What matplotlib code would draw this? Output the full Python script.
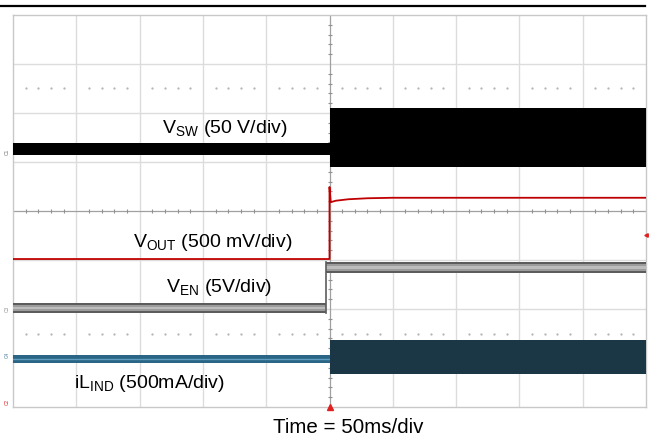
import matplotlib.pyplot as plt
import numpy as np
from matplotlib.lines import Line2D

plt.rcParams['font.family'] = ['Liberation Sans', 'DejaVu Sans']
plt.rcParams['mathtext.fontset'] = 'custom'
plt.rcParams['mathtext.rm'] = 'Liberation Sans'

# screen is 10 x 8 divisions, time in div (50 ms/div), trigger at t = 0
t_edges = [-5.0, 0.0, 5.0]

# V_SW band (low, high) before / after enable
vsw_lo = [1.14, 0.90]
vsw_hi = [1.39, 2.10]

# V_OUT trace
vout_t = [-5.0, 0.0, 0.0, 0.02, 0.1, 0.3, 0.6, 1.0, 2.0, 5.0]
vout_v = [-0.98, -0.98, 0.49, 0.18, 0.21, 0.24, 0.26, 0.27, 0.27, 0.27]

# V_EN band, step a bit before trigger
ven_t = [-5.0, -0.06, 5.0]
ven_lo = [-2.08, -1.27]
ven_hi = [-1.88, -1.04]

# inductor current band
il_lo = [-3.10, -3.33]
il_hi = [-2.94, -2.63]

labels = [
    (r'V$_\mathregular{SW}$ (50 V/div)', -2.65, 1.59),
    (r'V$_\mathregular{OUT}$ (500 mV/div)', -3.11, -0.73),
    (r'V$_\mathregular{EN}$ (5V/div)', -2.58, -1.65),
    (r'iL$_\mathregular{IND}$ (500mA/div)', -4.03, -3.61),
]

fig = plt.figure(figsize=(6.49, 4.36), dpi=100)
ax = fig.add_axes([13 / 649, 1 - 407 / 436, 633 / 649, 392 / 436])
ax.set_xlim(-5, 5)
ax.set_ylim(-4, 4)
ax.set_xticks([])
ax.set_yticks([])
for s in ax.spines.values():
    s.set_color('#c8c8c8')
    s.set_linewidth(1.0)

# graticule
for x in range(-4, 5):
    if x != 0:
        ax.axvline(x, color='#dcdcdc', lw=1.0, zorder=0)
for y in range(-3, 4):
    if y != 0:
        ax.axhline(y, color='#dcdcdc', lw=1.0, zorder=0)
ax.axvline(0, color='#a0a0a0', lw=0.9, zorder=0)
ax.axhline(0, color='#a0a0a0', lw=0.9, zorder=0)
minor_x = [v / 5 for v in range(-25, 26) if v % 5 != 0]
minor_y = [v / 5 for v in range(-20, 21) if v % 5 != 0]
ax.plot(minor_x, [0] * len(minor_x), ls='none', marker='|', ms=3, color='#909090', mew=0.8, zorder=0)
ax.plot([0] * len(minor_y), minor_y, ls='none', marker='_', ms=3, color='#909090', mew=0.8, zorder=0)
for yy in [2.5, -2.5]:
    ax.plot(minor_x, [yy] * len(minor_x), ls='none', marker='.', ms=1.2, color='#b0b0b0', zorder=0)

# V_SW
for i in range(2):
    ax.fill_between(t_edges[i:i + 2], vsw_lo[i], vsw_hi[i], color='black', lw=0, zorder=3)

# V_OUT
ax.plot(vout_t, vout_v, color='#c00000', lw=1.3, zorder=4)

# V_EN
for i in range(2):
    xs = ven_t[i:i + 2]
    ax.fill_between(xs, ven_lo[i], ven_hi[i], color='#5c5c5c', lw=0, zorder=3)
    pad = (ven_hi[i] - ven_lo[i]) * 0.2
    ax.fill_between(xs, ven_lo[i] + pad, ven_hi[i] - pad, color='#9c9c9c', lw=0, zorder=3)
    ax.fill_between(xs, ven_lo[i] + 2 * pad, ven_hi[i] - 2 * pad, color='#bdbdbd', lw=0, zorder=3)
ax.plot([ven_t[1], ven_t[1]], [ven_lo[0], ven_hi[1]], color='#5c5c5c', lw=1.2, zorder=3)

# inductor current
ax.fill_between(t_edges[0:2], il_lo[0], il_hi[0], color='#2b6585', lw=0, zorder=3)
ax.plot(t_edges[0:2], [(il_lo[0] + il_hi[0]) / 2] * 2, color='#5f9cc0', lw=1.0, zorder=3)
ax.fill_between(t_edges[1:3], il_lo[1], il_hi[1], color='#1b3644', lw=0, zorder=3)

for txt, x, y in labels:
    ax.text(x, y, txt, fontsize=14, va='baseline', ha='left', color='black', zorder=5)

# channel markers on left edge
for txt, y, c in [('C1', 1.2, '#707070'), ('C3', -2.0, '#909090'), ('C4', -2.94, '#4a7f9f'), ('C2', -3.9, '#e03030')]:
    fig.text(7 / 649, (y + 4) / 8 * 392 / 436 + (1 - 407 / 436), txt, fontsize=3.5, color=c,
             ha='center', va='center', rotation=90)

# trigger markers
ax.plot([0], [-4], marker='^', ms=4, color='#e02020', clip_on=False, zorder=6)
ax.plot([5], [-0.5], marker='<', ms=2.5, color='#e02020', clip_on=False, zorder=6)

fig.add_artist(Line2D([0, 645 / 649], [1 - 6 / 436, 1 - 6 / 436], color='black', lw=1.6))
fig.text(348.5 / 649, 1 - 433 / 436, 'Time = 50ms/div', fontsize=14.8, ha='center', va='baseline')

fig.savefig('out.png', dpi=100)
